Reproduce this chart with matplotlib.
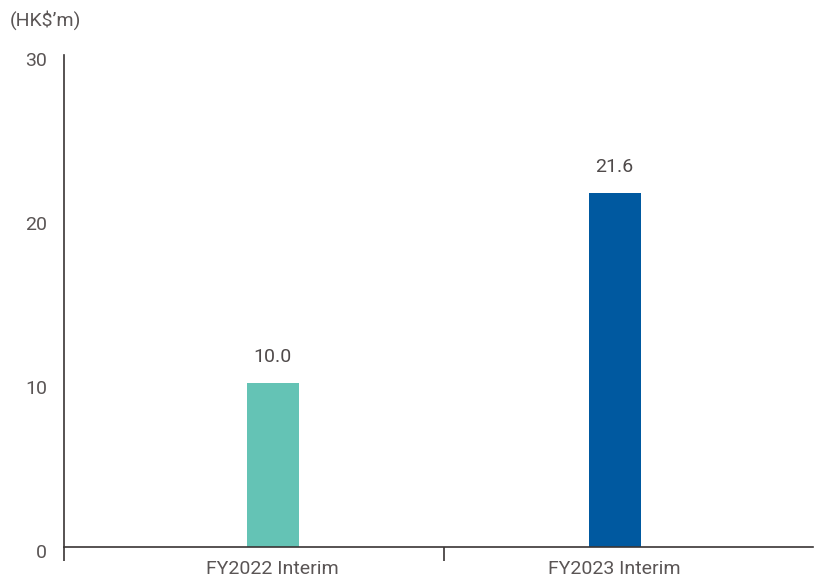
import matplotlib
matplotlib.use('Agg')
import matplotlib.pyplot as plt
import matplotlib.transforms as mtransforms

plt.rcParams['font.family'] = ['Roboto', 'DejaVu Sans']

categories = ['FY2022 Interim', 'FY2023 Interim']
values = [10.0, 21.6]
colors = ['#64c3b5', '#0059a0']
y_ticks = [0, 10, 20, 30]
unit_label = '(HK$\u2019m)'

text_col = '#5a5555'
axis_col = '#3a3535'

fig = plt.figure(figsize=(8.15, 5.81), dpi=100)
ax = fig.add_axes([0.0785, 0.0585, 0.919, 0.8468])

x = list(range(len(categories)))
bars = ax.bar(x, values, width=0.152, color=colors, zorder=2)

for xi, v in zip(x, values):
    ax.annotate(f'{v:.1f}', (xi, v), xytext=(0, 12), textcoords='offset points',
                ha='center', va='bottom', fontsize=14, color='#4f4a4a')

ax.set_xlim(-0.61, 1.58)
ax.set_ylim(0, 30)

# y axis: labels only, no tick marks
ax.set_yticks(y_ticks)
ax.set_yticklabels([str(t) for t in y_ticks])
ax.tick_params(axis='y', length=0, pad=12, labelsize=14, labelcolor=text_col)
offset = mtransforms.ScaledTranslation(0, -4 / 100, fig.dpi_scale_trans)
for lbl in ax.get_yticklabels():
    lbl.set_transform(lbl.get_transform() + offset)

# x axis: separator ticks between categories, labels under bars
ax.set_xticks([-0.61, 0.5])
ax.set_xticklabels(['', ''])
ax.set_xticks(x, minor=True)
ax.set_xticklabels(categories, minor=True)
ax.tick_params(axis='x', which='major', direction='out', length=10, width=1.2, color=axis_col)
ax.tick_params(axis='x', which='minor', length=0, pad=9, labelsize=14, labelcolor=text_col)

for side in ['top', 'right']:
    ax.spines[side].set_visible(False)
for side in ['left', 'bottom']:
    ax.spines[side].set_color(axis_col)
    ax.spines[side].set_linewidth(1.2)

fig.text(0.012, 0.965, unit_label, fontsize=14, color=text_col, ha='left', va='center')

fig.savefig('out.png', dpi=100)
